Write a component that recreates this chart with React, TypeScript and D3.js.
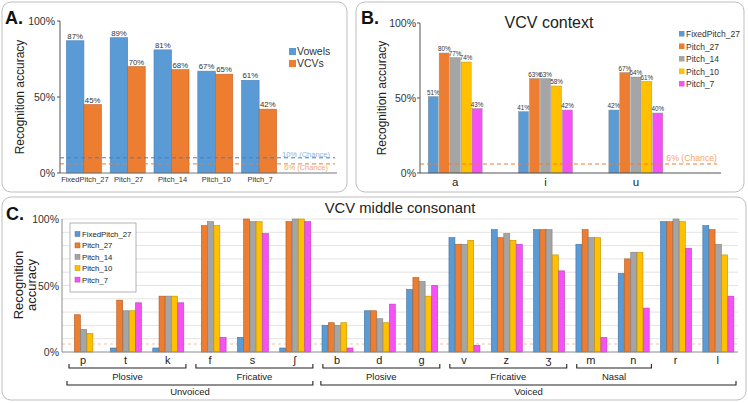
import React from 'react';
import * as d3 from 'd3';

// ---------- Panel A data ----------
const modelsA = ['FixedPitch_27', 'Pitch_27', 'Pitch_14', 'Pitch_10', 'Pitch_7'];
const seriesA = ['Vowels', 'VCVs'];
const vowelsA = [87, 89, 81, 67, 61];
const vcvsA = [45, 70, 68, 65, 42];
const chanceVowels = 10;
const chanceVCV = 6;

// ---------- Panel B data ----------
const seriesNames = ['FixedPitch_27', 'Pitch_27', 'Pitch_14', 'Pitch_10', 'Pitch_7'];
const contextsB = ['a', 'i', 'u'];
const fixed27B = [51, 41, 42];
const pitch27B = [80, 63, 67];
const pitch14B = [77, 63, 64];
const pitch10B = [74, 58, 61];
const pitch7B = [43, 42, 40];

// ---------- Panel C data ----------
const consonantsC = ['p', 't', 'k', 'f', 's', 'ʃ', 'b', 'd', 'g', 'v', 'z', 'ʒ', 'm', 'n', 'r', 'l'];
const fixed27C = [0, 3, 3, 0, 11, 3, 20, 31, 47, 86, 92, 92, 81, 59, 98, 95];
const pitch27C = [28, 39, 42, 95, 100, 98, 22, 31, 56, 81, 86, 92, 92, 70, 98, 92];
const pitch14C = [17, 31, 42, 98, 98, 100, 20, 25, 53, 81, 89, 92, 86, 75, 100, 81];
const pitch10C = [14, 31, 42, 95, 98, 100, 22, 22, 42, 84, 84, 73, 86, 75, 98, 73];
const pitch7C = [0, 37, 37, 11, 89, 98, 3, 36, 50, 5, 81, 61, 11, 33, 78, 42];
const mannerLabels = ['Plosive', 'Fricative', 'Plosive', 'Fricative', 'Nasal'];
const mannerStart = ['p', 'f', 'b', 'v', 'm'];
const mannerEnd = ['k', 'ʃ', 'g', 'ʒ', 'n'];
const voicingLabels = ['Unvoiced', 'Voiced'];
const voicingStart = ['p', 'b'];
const voicingEnd = ['ʃ', 'l'];

const yTicks = [0, 50, 100];

const FILL = ['#5B9BD5', '#ED7D31', '#A5A5A5', '#FFC000', '#F552F5'];
const STROKE = ['#41719C', '#AE5A21', '#7F7F7F', '#BF9000', '#B83DB8'];
const FONT = '"Liberation Sans", Arial, sans-serif';

function PanelA() {
  const y = d3.scaleLinear().domain([0, 100]).range([173, 21]);
  const x = d3.scaleBand().domain(modelsA).range([62, 281]);
  const inner = d3.scaleBand().domain(seriesA).range([0, 35]);
  const vals = [vowelsA, vcvsA];
  const colors = ['#5B9BD5', '#ED7D31'];
  const strokes = ['#4A7EBB', '#C0632A'];
  const off = (x.bandwidth() - 35) / 2;
  return (
    <g>
      <rect x={2} y={2} width={345} height={190} rx={9} fill="white" stroke="#bdbdbd" />
      <text x={5} y={24} fontSize={18} fontWeight="bold" fill="#111">A.</text>
      <text transform={`translate(24,97) rotate(-90)`} textAnchor="middle" fontSize={12} fill="#222">Recognition accuracy</text>
      {seriesA.map((s, si) =>
        modelsA.map((m, i) => {
          const bx = (x(m) as number) + off + (inner(s) as number);
          const v = vals[si][i];
          return (
            <g key={s + m}>
              <rect x={bx} y={y(v)} width={inner.bandwidth()} height={y(0) - y(v)} fill={colors[si]} stroke={strokes[si]} strokeWidth={0.6} />
              <text x={bx + inner.bandwidth() / 2} y={y(v) - 2} textAnchor="middle" fontSize={7.8} fill="#333">{v}%</text>
            </g>
          );
        })
      )}
      <line x1={60} x2={335} y1={y(chanceVowels)} y2={y(chanceVowels)} stroke="#4A7EBB" strokeDasharray="4,3" strokeWidth={1} />
      <line x1={60} x2={335} y1={y(chanceVCV)} y2={y(chanceVCV)} stroke="#ED7D31" strokeDasharray="4,3" strokeWidth={1} />
      <text x={330} y={157} textAnchor="end" fontSize={7.5} fill="#8DB4E2">10% (Chance)</text>
      <text x={328} y={170} textAnchor="end" fontSize={7.5} fill="#F4A56E">6% (Chance)</text>
      <line x1={60} x2={337} y1={y(0)} y2={y(0)} stroke="#777" />
      <line x1={60} x2={60} y1={y(0)} y2={y(100)} stroke="#555" />
      {yTicks.map((t) => (
        <g key={t}>
          <line x1={57} x2={60} y1={y(t)} y2={y(t)} stroke="#555" />
          <text x={55} y={y(t) + 4} textAnchor="end" fontSize={10.5} fill="#333">{t}%</text>
        </g>
      ))}
      {modelsA.map((m) => (
        <text key={m} x={(x(m) as number) + x.bandwidth() / 2 + 1} y={182} textAnchor="middle" fontSize={7.5} fill="#333">{m}</text>
      ))}
      {seriesA.map((s, si) => (
        <g key={s}>
          <rect x={289} y={48 + si * 12} width={7} height={7} fill={colors[si]} />
          <text x={297} y={55 + si * 12} fontSize={10.5} fill="#333">{s}</text>
        </g>
      ))}
    </g>
  );
}

function PanelB() {
  const y = d3.scaleLinear().domain([0, 100]).range([173, 23]);
  const x = d3.scaleBand().domain(contextsB).range([410, 681]);
  const inner = d3.scaleBand().domain(seriesNames).range([0, 54]).paddingInner(0.08);
  const vals = [fixed27B, pitch27B, pitch14B, pitch10B, pitch7B];
  const off = (x.bandwidth() - 54) / 2;
  return (
    <g>
      <rect x={356} y={2} width={388} height={190} rx={9} fill="white" stroke="#bdbdbd" />
      <text x={361} y={24} fontSize={18} fontWeight="bold" fill="#111">B.</text>
      <text x={549} y={28} textAnchor="middle" fontSize={16} fill="#222">VCV context</text>
      <text transform={`translate(386,98) rotate(-90)`} textAnchor="middle" fontSize={12} fill="#222">Recognition accuracy</text>
      {seriesNames.map((s, si) =>
        contextsB.map((c, i) => {
          const bx = (x(c) as number) + off + (inner(s) as number);
          const v = vals[si][i];
          return (
            <g key={s + c}>
              <rect x={bx} y={y(v)} width={inner.bandwidth()} height={y(0) - y(v)} fill={FILL[si]} stroke="#8a8a8a" strokeWidth={0.4} />
              <text x={bx + inner.bandwidth() / 2} y={y(v) - 2} textAnchor="middle" fontSize={6.3} fill="#333">{v}%</text>
            </g>
          );
        })
      )}
      <line x1={420} x2={717} y1={y(chanceVCV)} y2={y(chanceVCV)} stroke="#ED7D31" strokeDasharray="4,3" />
      <text x={717} y={y(chanceVCV) - 3} textAnchor="end" fontSize={8.7} fill="#F4A56E">6% (Chance)</text>
      <line x1={420} x2={721} y1={y(0)} y2={y(0)} stroke="#555" />
      <line x1={420} x2={420} y1={y(0)} y2={y(100)} stroke="#555" />
      {yTicks.map((t) => (
        <g key={t}>
          <line x1={417} x2={420} y1={y(t)} y2={y(t)} stroke="#555" />
          <text x={416} y={y(t) + 4} textAnchor="end" fontSize={10.5} fill="#333">{t}%</text>
        </g>
      ))}
      {contextsB.map((c) => (
        <text key={c} x={(x(c) as number) + x.bandwidth() / 2} y={186} textAnchor="middle" fontSize={11.5} fill="#222">{c}</text>
      ))}
      {seriesNames.map((s, si) => (
        <g key={s}>
          <rect x={679} y={31 + si * 12.5} width={5.5} height={5.5} fill={FILL[si]} />
          <text x={686} y={37 + si * 12.5} fontSize={8.5} fill="#333">{s}</text>
        </g>
      ))}
    </g>
  );
}

function PanelC() {
  const y = d3.scaleLinear().domain([0, 100]).range([352, 219]);
  const x = d3.scaleBand().domain(consonantsC).range([62, 739]);
  const gw = 31;
  const inner = d3.scaleBand().domain(seriesNames).range([0, gw]).paddingInner(0.05);
  const vals = [fixed27C, pitch27C, pitch14C, pitch10C, pitch7C];
  const off = (x.bandwidth() - gw) / 2 + 0.5;
  const grid = d3.range(10, 101, 10);
  const bStart = (c: string) => x(c) as number;
  const bEnd = (c: string) => (x(c) as number) + x.bandwidth();
  const bracket = (x1: number, x2: number, yy: number, key: string) => (
    <path key={key} d={`M${x1},${yy - 4}V${yy}H${x2}V${yy - 4}`} fill="none" stroke="#222" strokeWidth={1.1} />
  );
  return (
    <g>
      <rect x={2} y={197} width={744} height={203} rx={9} fill="white" stroke="#bdbdbd" />
      <text x={6} y={220} fontSize={18} fontWeight="bold" fill="#111">C.</text>
      <text x={400} y={213} textAnchor="middle" fontSize={14.8} fill="#222">VCV middle consonant</text>
      <text transform={`translate(23,285) rotate(-90)`} textAnchor="middle" fontSize={13} fill="#222">Recognition</text>
      <text transform={`translate(36,285) rotate(-90)`} textAnchor="middle" fontSize={13} fill="#222">accuracy</text>
      {grid.map((g) => (
        <line key={g} x1={62} x2={738} y1={y(g)} y2={y(g)} stroke="#e3e3e3" />
      ))}
      <line x1={62} x2={738} y1={y(6)} y2={y(6)} stroke="#F4B183" strokeDasharray="3,3" strokeWidth={0.8} />
      {seriesNames.map((s, si) =>
        consonantsC.map((c, i) => {
          const v = vals[si][i];
          if (v <= 0) return null;
          const bx = (x(c) as number) + off + (inner(s) as number);
          return (
            <rect key={s + c} x={bx} y={y(v)} width={inner.bandwidth()} height={y(0) - y(v)} fill={FILL[si]} stroke={STROKE[si]} strokeWidth={0.6} />
          );
        })
      )}
      <line x1={62} x2={738} y1={y(0)} y2={y(0)} stroke="#8c8c8c" />
      <line x1={62} x2={62} y1={y(0)} y2={y(100)} stroke="#8c8c8c" />
      {yTicks.map((t) => (
        <text key={t} x={59} y={y(t) + 4} textAnchor="end" fontSize={10.5} fill="#333">{t}%</text>
      ))}
      {consonantsC.map((c) => (
        <text key={c} x={(x(c) as number) + x.bandwidth() / 2} y={364} textAnchor="middle" fontSize={11} fill="#222">{c}</text>
      ))}
      {mannerLabels.map((m, i) => {
        const x1 = bStart(mannerStart[i]) + 7;
        const x2 = bEnd(mannerEnd[i]) - 3;
        return (
          <g key={'m' + i}>
            {bracket(x1, x2, 368, 'mb' + i)}
            <text x={(x1 + x2) / 2} y={380} textAnchor="middle" fontSize={9.5} fill="#222">{m}</text>
          </g>
        );
      })}
      {voicingLabels.map((v, i) => {
        const x1 = bStart(voicingStart[i]) + 5;
        const x2 = bEnd(voicingEnd[i]) - 3;
        return (
          <g key={'v' + i}>
            {bracket(x1, x2, 385, 'vb' + i)}
            <text x={(x1 + x2) / 2} y={395} textAnchor="middle" fontSize={9.5} fill="#222">{v}</text>
          </g>
        );
      })}
      <rect x={70} y={223} width={66} height={69} fill="white" stroke="#a0a0a0" strokeWidth={0.8} />
      {seriesNames.map((s, si) => (
        <g key={s}>
          <rect x={75} y={231.5 + si * 11.4} width={5} height={5} fill={FILL[si]} stroke={STROKE[si]} strokeWidth={0.5} />
          <text x={82} y={237 + si * 11.4} fontSize={7.8} fill="#222">{s}</text>
        </g>
      ))}
    </g>
  );
}

export default function App() {
  return (
    <svg width={748} height={403} style={{ position: 'absolute', left: 0, top: 0, fontFamily: FONT, background: 'white' }}>
      <rect x={0} y={0} width={748} height={403} fill="white" />
      <PanelA />
      <PanelB />
      <PanelC />
    </svg>
  );
}
